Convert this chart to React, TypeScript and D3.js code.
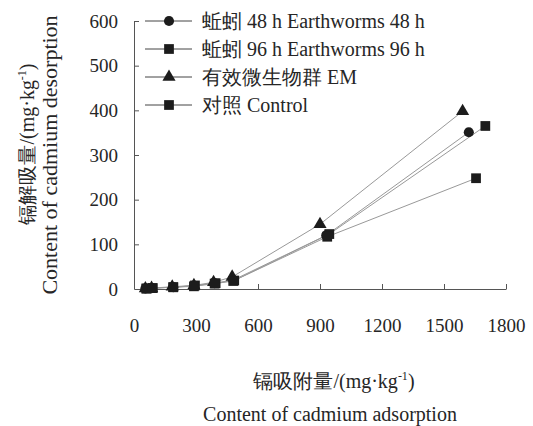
import React, { useEffect, useRef } from 'react';
import * as d3 from 'd3';

// series labels and markers
const seriesNames = [
  '蚯蚓 48 h Earthworms 48 h',
  '蚯蚓 96 h Earthworms 96 h',
  '有效微生物群 EM',
  '对照 Control',
];
const markerTypes = ['circle', 'square', 'triangle', 'square'];

// adsorption (x) and desorption (y), mg/kg
const x48h = [55, 85, 190, 290, 390, 480, 930, 1620];
const y48h = [1, 2, 4, 7, 13, 20, 120, 351];
const x96h = [60, 90, 190, 295, 395, 485, 945, 1700];
const y96h = [1, 2, 4, 8, 13, 19, 123, 365];
const xEM = [55, 85, 185, 290, 385, 475, 900, 1590];
const yEM = [1, 2, 5, 8, 15, 27, 145, 398];
const xCtrl = [60, 90, 190, 290, 390, 480, 935, 1655];
const yCtrl = [1, 2, 4, 6, 12, 18, 117, 248];

const xTicks = [0, 300, 600, 900, 1200, 1500, 1800];
const yTicks = [0, 100, 200, 300, 400, 500, 600];

const SERIF = '"Liberation Serif", "DejaVu Serif", serif';

export default function App() {
  const ref = useRef<SVGSVGElement>(null);
  const width = 533;
  const height = 426;
  const plot = { left: 134, right: 506, top: 21, bottom: 289 };

  useEffect(() => {
    const svg = d3.select(ref.current);
    svg.selectAll('*').remove();

    const xScale = d3.scaleLinear().domain([0, 1800]).range([plot.left, plot.right]);
    const yScale = d3.scaleLinear().domain([0, 600]).range([plot.bottom, plot.top]);

    //----------- axes --------------------------//
    const xAxis = d3.axisBottom(xScale).tickValues(xTicks).tickFormat(d3.format('d'))
      .tickSizeInner(-5).tickSizeOuter(0).tickPadding(30);
    const yAxis = d3.axisLeft(yScale).tickValues(yTicks).tickFormat(d3.format('d'))
      .tickSizeInner(-5).tickSizeOuter(0).tickPadding(16);

    const gx = svg.append('g')
      .attr('class', 'xAxis')
      .attr('transform', `translate(0,${plot.bottom})`)
      .call(xAxis);
    const gy = svg.append('g')
      .attr('class', 'yAxis')
      .attr('transform', `translate(${plot.left},0)`)
      .call(yAxis);

    [gx, gy].forEach(g => {
      g.attr('font-family', SERIF).attr('font-size', 19);
      g.select('.domain').attr('stroke', '#555').attr('stroke-width', 1);
      g.selectAll('.tick line').attr('stroke', '#555');
      g.selectAll('.tick text').attr('fill', '#262626');
    });
    gx.selectAll('.tick').filter((d: any) => d === 0).select('line').remove();
    gy.selectAll('.tick').filter((d: any) => d === 0).select('line').remove();

    //----------- series --------------------------//
    const xs = [x48h, x96h, xEM, xCtrl];
    const ys = [y48h, y96h, yEM, yCtrl];
    const drawOrder = [2, 0, 1, 3];

    const symbolFor = (t: string) => {
      if (t === 'circle') return d3.symbol(d3.symbolCircle, 80);
      if (t === 'triangle') return d3.symbol(d3.symbolTriangle, 75);
      return d3.symbol(d3.symbolSquare, 95);
    };

    const line = d3.line<[number, number]>()
      .x(d => xScale(d[0]))
      .y(d => yScale(d[1]));

    drawOrder.forEach(i => {
      const pts: [number, number][] = xs[i].map((x, j) => [x, ys[i][j]]);
      svg.append('path')
        .attr('d', line(pts))
        .attr('fill', 'none')
        .attr('stroke', '#999')
        .attr('stroke-width', 1);
    });
    drawOrder.forEach(i => {
      const pts: [number, number][] = xs[i].map((x, j) => [x, ys[i][j]]);
      svg.append('g')
        .selectAll('path')
        .data(pts)
        .join('path')
        .attr('transform', d => `translate(${xScale(d[0])},${yScale(d[1])})`)
        .attr('d', symbolFor(markerTypes[i])())
        .attr('fill', '#1c1c1c');
    });

    //----------- legend --------------------------//
    const legend = svg.append('g').attr('transform', 'translate(145,21)');
    seriesNames.forEach((name, i) => {
      const row = legend.append('g').attr('transform', `translate(0,${i * 28})`);
      row.append('line')
        .attr('x1', 0).attr('x2', 47).attr('y1', 0).attr('y2', 0)
        .attr('stroke', '#444').attr('stroke-width', 1);
      row.append('path')
        .attr('transform', 'translate(24,0)')
        .attr('d', symbolFor(markerTypes[i])())
        .attr('fill', '#1c1c1c');
      row.append('text')
        .attr('x', 57).attr('y', 7)
        .attr('fill', '#262626')
        .attr('font-family', SERIF)
        .attr('font-size', 20)
        .text(name);
    });

    //----------- axis titles --------------------------//
    const unitText = (sel: any, cn: string, size: number) => {
      sel.append('tspan').text(cn + '/(mg·kg');
      sel.append('tspan').attr('dy', -size * 0.38).attr('font-size', size * 0.6).text('-1');
      sel.append('tspan').attr('dy', size * 0.38).text(')');
    };

    const yt1 = svg.append('text')
      .attr('transform', 'translate(34,144) rotate(-90)')
      .attr('text-anchor', 'middle')
      .attr('fill', '#262626')
      .attr('font-family', SERIF)
      .attr('font-size', 20);
    unitText(yt1, '镉解吸量', 20);
    svg.append('text')
      .attr('transform', 'translate(57,155) rotate(-90)')
      .attr('text-anchor', 'middle')
      .attr('fill', '#262626')
      .attr('font-family', SERIF)
      .attr('font-size', 22)
      .text('Content of cadmium desorption');

    const xt1 = svg.append('text')
      .attr('x', 334).attr('y', 388)
      .attr('text-anchor', 'middle')
      .attr('fill', '#262626')
      .attr('font-family', SERIF)
      .attr('font-size', 20);
    unitText(xt1, '镉吸附量', 20);
    svg.append('text')
      .attr('x', 330).attr('y', 421)
      .attr('text-anchor', 'middle')
      .attr('fill', '#262626')
      .attr('font-family', SERIF)
      .attr('font-size', 20)
      .text('Content of cadmium adsorption');
  }, []);

  return (
    <svg
      ref={ref}
      width={width}
      height={height}
      style={{ position: 'absolute', left: 0, top: 0, background: '#fff' }}
    />
  );
}
